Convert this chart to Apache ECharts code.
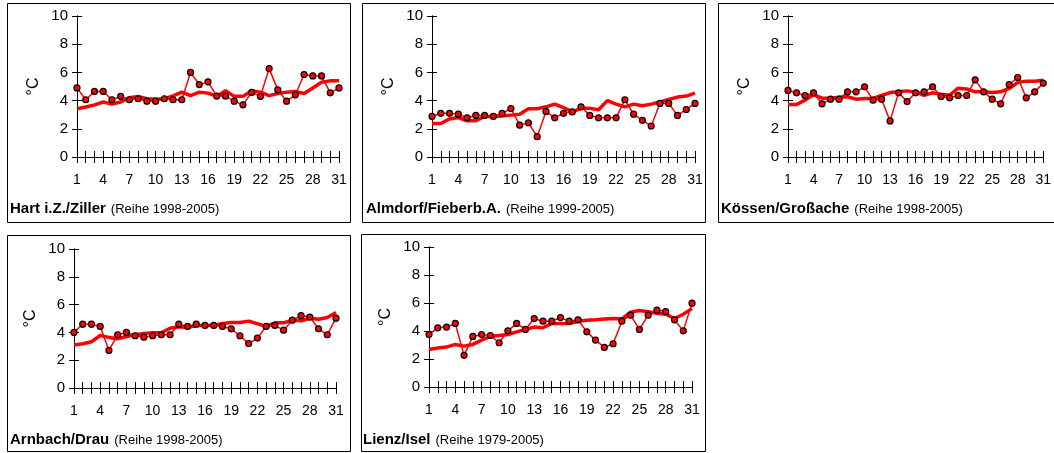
<!DOCTYPE html>
<html>
<head>
<meta charset="utf-8">
<script src="https://cdn.jsdelivr.net/npm/echarts@6/dist/echarts.min.js"></script>
<style>
html,body{margin:0;padding:0;background:#fff;}
#c{width:1054px;height:453px;}
</style>
</head>
<body>
<div id="c"></div>
<script>
// ---- data ----
const days = Array.from({length: 31}, (_, i) => String(i + 1));
const yTicks = [0, 2, 4, 6, 8, 10];

const stationNames = ['Hart i.Z./Ziller', 'Almdorf/Fieberb.A.', 'Kössen/Großache', 'Arnbach/Drau', 'Lienz/Isel'];
const stationPeriods = ['(Reihe 1998-2005)', '(Reihe 1999-2005)', '(Reihe 1998-2005)', '(Reihe 1998-2005)', '(Reihe 1979-2005)'];

const hartDaily = [4.9, 4.06, 4.65, 4.65, 4.06, 4.3, 4.06, 4.13, 3.96, 3.96, 4.13, 4.06, 4.06, 6.0, 5.14, 5.33, 4.32, 4.32, 3.96, 3.7, 4.58, 4.3, 6.27, 4.76, 3.96, 4.41, 5.85, 5.75, 5.75, 4.55, 4.9];
const hartMean = [3.42, 3.55, 3.7, 3.9, 3.75, 3.9, 4.2, 4.3, 4.13, 4.1, 4.13, 4.34, 4.6, 4.35, 4.6, 4.53, 4.3, 4.7, 4.3, 4.3, 4.7, 4.6, 4.35, 4.5, 4.6, 4.65, 4.5, 4.9, 5.3, 5.4, 5.4];

const almdorfDaily = [2.88, 3.1, 3.1, 3.04, 2.78, 2.95, 2.95, 2.88, 3.1, 3.44, 2.26, 2.43, 1.44, 3.23, 2.78, 3.1, 3.2, 3.56, 2.95, 2.78, 2.78, 2.78, 4.06, 3.04, 2.6, 2.2, 3.8, 3.8, 2.95, 3.37, 3.8];
const almdorfMean = [2.38, 2.38, 2.7, 2.8, 2.57, 2.57, 2.88, 2.88, 2.9, 2.97, 3.04, 3.42, 3.42, 3.56, 3.75, 3.5, 3.2, 3.45, 3.45, 3.35, 4.0, 3.75, 3.56, 3.75, 3.63, 3.75, 3.9, 4.08, 4.25, 4.32, 4.53];

const koessenDaily = [4.72, 4.55, 4.36, 4.55, 3.77, 4.1, 4.1, 4.62, 4.62, 4.98, 4.03, 4.1, 2.56, 4.55, 3.93, 4.55, 4.62, 4.98, 4.29, 4.2, 4.36, 4.36, 5.47, 4.62, 4.1, 3.77, 5.14, 5.64, 4.2, 4.62, 5.24];
const koessenMean = [3.72, 3.72, 4.03, 4.43, 4.17, 4.17, 4.24, 4.27, 4.1, 4.15, 4.15, 4.36, 4.57, 4.62, 4.69, 4.6, 4.38, 4.55, 4.45, 4.38, 4.88, 4.83, 4.62, 4.62, 4.57, 4.62, 4.86, 5.28, 5.38, 5.38, 5.45];

const arnbachDaily = [4.0, 4.59, 4.59, 4.43, 2.7, 3.83, 4.0, 3.76, 3.66, 3.76, 3.83, 3.83, 4.59, 4.43, 4.59, 4.5, 4.5, 4.43, 4.26, 3.76, 3.2, 3.59, 4.43, 4.5, 4.16, 4.88, 5.2, 5.1, 4.26, 3.83, 5.02];
const arnbachMean = [3.1, 3.18, 3.33, 3.78, 3.64, 3.54, 3.7, 3.83, 3.92, 3.97, 3.97, 4.3, 4.4, 4.35, 4.5, 4.5, 4.5, 4.64, 4.71, 4.71, 4.81, 4.62, 4.43, 4.69, 4.69, 4.88, 4.83, 5.02, 4.95, 5.07, 5.43];

const lienzDaily = [3.75, 4.23, 4.28, 4.54, 2.26, 3.61, 3.75, 3.68, 3.16, 4.01, 4.54, 4.11, 4.89, 4.7, 4.7, 4.96, 4.7, 4.8, 3.94, 3.35, 2.83, 3.09, 4.7, 5.13, 4.11, 5.13, 5.49, 5.39, 4.8, 4.01, 5.99];
const lienzMean = [2.68, 2.78, 2.85, 3.04, 2.92, 3.04, 3.35, 3.61, 3.68, 3.75, 3.94, 4.11, 4.28, 4.23, 4.54, 4.54, 4.54, 4.7, 4.77, 4.8, 4.85, 4.89, 4.87, 5.34, 5.46, 5.37, 5.27, 5.2, 4.89, 5.2, 5.6];

const dailySeries = [hartDaily, almdorfDaily, koessenDaily, arnbachDaily, lienzDaily];
const meanSeries = [hartMean, almdorfMean, koessenMean, arnbachMean, lienzMean];

// ---- layout ----
const grids = [
  {left: 77, top: 16, width: 262, height: 141},
  {left: 432, top: 16, width: 263, height: 141},
  {left: 788, top: 16, width: 264, height: 141},
  {left: 74, top: 249, width: 262, height: 139},
  {left: 429, top: 247, width: 263, height: 140}
];
const boxes = [
  {x: 7.5, y: 3.5, w: 343, h: 219},
  {x: 362.5, y: 3.5, w: 343, h: 219},
  {x: 718.5, y: 3.5, w: 343, h: 219},
  {x: 7.5, y: 235.5, w: 343, h: 216},
  {x: 361.5, y: 234.5, w: 344, h: 217}
];
const titlePos = [
  {left: 10, top: 200},
  {left: 366, top: 200},
  {left: 721, top: 200},
  {left: 10, top: 431},
  {left: 363, top: 431}
];

const FONT = '"Liberation Sans", Arial, sans-serif';
const xAxes = [], yAxes = [], series = [], titles = [], graphics = [];

grids.forEach((g, i) => {
  [false, true].forEach((inside) => {
    xAxes.push({
      type: 'category', gridIndex: i, data: days, boundaryGap: false,
      position: 'bottom', offset: 0,
      axisLine: {show: true, onZero: false, lineStyle: {color: '#000', width: 1}},
      axisTick: {show: true, inside: inside, length: 6, interval: 0, lineStyle: {color: '#000', width: 1}},
      axisLabel: {show: !inside, interval: 2, margin: 16, color: '#000', fontSize: 14, fontFamily: FONT},
      splitLine: {show: false}
    });
    yAxes.push({
      type: 'value', gridIndex: i, min: 0, max: 10, interval: 2,
      position: 'left', offset: 0,
      name: inside ? '' : '°C', nameLocation: 'middle', nameGap: 35,
      nameTextStyle: {color: '#000', fontSize: 16, fontFamily: FONT},
      axisLine: {show: true, onZero: false, lineStyle: {color: '#000', width: 1}},
      axisTick: {show: true, inside: inside, length: 5, lineStyle: {color: '#000', width: 1}},
      axisLabel: {show: !inside, margin: 9, color: '#000', fontSize: 15, fontFamily: FONT},
      splitLine: {show: false}
    });
  });
  series.push({
    type: 'line', xAxisIndex: 2 * i, yAxisIndex: 2 * i, data: meanSeries[i],
    symbol: 'none', lineStyle: {color: '#ff0000', width: 3.5}, z: 2, animation: false
  });
  series.push({
    type: 'line', xAxisIndex: 2 * i, yAxisIndex: 2 * i, data: dailySeries[i],
    symbol: 'circle', symbolSize: 6, showSymbol: true, showAllSymbol: true,
    itemStyle: {color: '#ff0000', borderColor: '#000', borderWidth: 1.2},
    lineStyle: {color: '#ff0000', width: 1.5}, z: 3, animation: false
  });
  titles.push({
    text: '{a|' + stationNames[i] + '} {b|' + stationPeriods[i] + '}',
    left: titlePos[i].left, top: titlePos[i].top, padding: 0,
    textStyle: {
      fontWeight: 'normal',
      rich: {
        a: {fontFamily: FONT, fontWeight: 'bold', fontSize: 15, color: '#000'},
        b: {fontFamily: FONT, fontWeight: 'normal', fontSize: 13, color: '#000'}
      }
    }
  });
  const b = boxes[i];
  graphics.push({
    type: 'rect', shape: {x: b.x, y: b.y, width: b.w, height: b.h},
    style: {fill: 'none', stroke: '#000', lineWidth: 1}, silent: true, z: 0
  });
});

const chart = echarts.init(document.getElementById('c'), null, {renderer: 'canvas'});
chart.setOption({
  backgroundColor: '#fff',
  animation: false,
  title: titles,
  grid: grids,
  xAxis: xAxes,
  yAxis: yAxes,
  series: series,
  graphic: graphics
});
</script>
</body>
</html>
